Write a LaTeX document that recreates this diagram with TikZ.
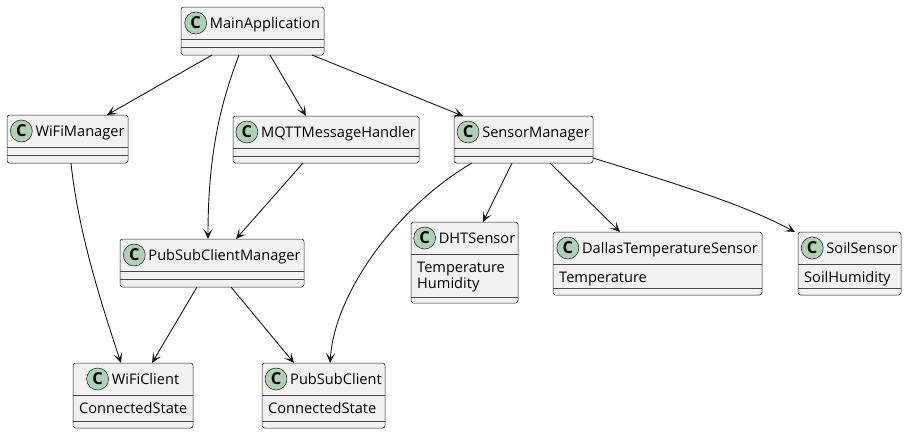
\documentclass[tikz,border=0pt]{standalone}
\usepackage{fontspec}
\setmainfont{Open Sans}
\usetikzlibrary{arrows.meta}
\definecolor{boxfill}{HTML}{F1F1F1}
\definecolor{boxline}{HTML}{181818}
\definecolor{circfill}{HTML}{ADD1B2}
\tikzset{
  classbox/.style={draw=boxline, line width=0.5pt, fill=boxfill, rounded corners=2.5pt, inner sep=0pt, outer sep=0pt},
  sepline/.style={draw=boxline!80, line width=0.5pt},
  titletext/.style={font=\fontsize{14.6}{16}\selectfont, inner sep=0pt, anchor=base, text=black},
  attrtext/.style={font=\fontsize{14.6}{16}\selectfont, inner sep=0pt, anchor=base west, text=black},
  cicon/.style={circle, draw=boxline, line width=0.5pt, fill=circfill, minimum size=22pt, inner sep=0pt, font=\bfseries\fontsize{16.5}{16.5}\selectfont},
  link/.style={draw=boxline, line width=0.9pt, -{Stealth[length=10pt, width=9pt, inset=5pt]}}
}
\newcommand{\umlclass}[9]{%
  \node[classbox, minimum width={(#4-#2)*1pt}, minimum height={(#5-#3)*1pt}] (#1) at ({(#2+#4)/2},{(#3+#5)/2}) {};
  \draw[sepline] (#2,#6) -- (#4,#6);
  \draw[sepline] (#2,#7) -- (#4,#7);
  \node[titletext] (#1-t) at ({(#2+#4)/2+12.5},{#3+21}) {#8};
  \node[cicon] (#1-c) at ([xshift=-14pt,yshift=5pt]#1-t.base west) {C};
  \foreach \a [count=\i] in {#9} {\node[attrtext] at ({#2+6},{#6+18+16*(\i-1)}) {\a};}
}
\begin{document}
\begin{tikzpicture}[x=1pt, y=-1pt]
\useasboundingbox (0,0) rectangle (907,434);
\umlclass{main}{181}{7}{324}{55}{39}{47}{MainApplication}{}
\umlclass{wifimgr}{7}{115}{128}{163}{147}{155}{WiFiManager}{}
\umlclass{mqtt}{233}{116}{419}{163}{148}{156}{MQTTMessageHandler}{}
\umlclass{sensor}{454}{116}{593}{163}{148}{156}{SensorManager}{}
\umlclass{psmgr}{120}{239}{304}{287}{271}{279}{PubSubClientManager}{}
\umlclass{dht}{411}{222}{518}{303}{254}{297}{DHTSensor}{Temperature,Humidity}
\umlclass{dallas}{553}{232}{762}{295}{264}{288}{DallasTemperatureSensor}{Temperature}
\umlclass{soil}{798}{232}{901}{295}{264}{288}{SoilSensor}{SoilHumidity}
\umlclass{wificlient}{73}{363}{193}{428}{395}{421}{WiFiClient}{ConnectedState}
\umlclass{pubsubclient}{262}{363}{385}{428}{395}{421}{PubSubClient}{ConnectedState}

\draw[link] ([xshift=31pt]main.south west) -- ([xshift=100pt]wifimgr.north west);
\draw[link] ([xshift=58pt]main.south west) .. controls (222,100) and (208,150) .. ([xshift=88pt]psmgr.north west);
\draw[link] ([xshift=89pt]main.south west) -- ([xshift=73pt]mqtt.north west);
\draw[link] ([xshift=131pt]main.south west) -- ([xshift=9pt]sensor.north west);
\draw[link] ([xshift=64pt]wifimgr.south west) .. controls (78,230) and (100,300) .. ([xshift=48pt]wificlient.north west);
\draw[link] ([xshift=70pt]mqtt.south west) -- ([xshift=116pt]psmgr.north west);
\draw[link] ([xshift=77pt]psmgr.south west) -- ([xshift=79pt]wificlient.north west);
\draw[link] ([xshift=111pt]psmgr.south west) -- ([xshift=32pt]pubsubclient.north west);
\draw[link] ([xshift=18pt]sensor.south west) .. controls (400,205) and (335,290) .. ([xshift=68pt]pubsubclient.north west);
\draw[link] ([xshift=58pt]sensor.south west) -- ([xshift=72pt]dht.north west);
\draw[link] ([xshift=96pt]sensor.south west) -- ([xshift=67pt]dallas.north west);
\draw[link] ([yshift=5pt]sensor.south east) .. controls (680,185) and (745,205) .. ([xshift=-3pt]soil.north west);
\end{tikzpicture}
\end{document}
